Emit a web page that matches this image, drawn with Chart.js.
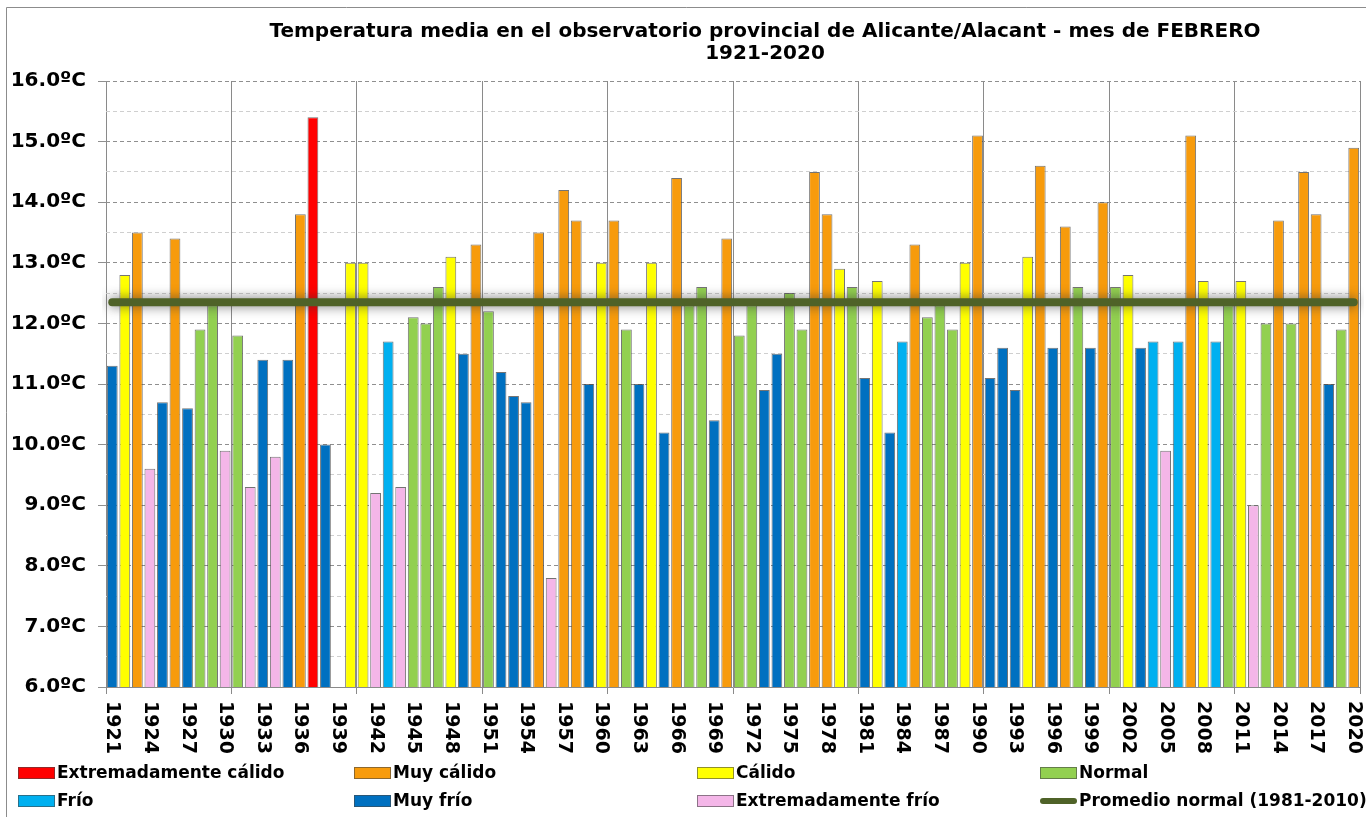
<!DOCTYPE html>
<html>
<head>
<meta charset="utf-8">
<script src="https://cdn.jsdelivr.net/npm/chart.js@4.4.1/dist/chart.umd.min.js"></script>
<style>
  html, body { margin: 0; padding: 0; background: #ffffff; }
  #wrap { position: relative; width: 1366px; height: 817px; overflow: hidden; }
  canvas { display: block; }
</style>
</head>
<body>
<div id="wrap"><canvas id="c" width="1366" height="817"></canvas></div>
<script>
// ---------- DATA ----------
const years = ['1921','1922','1923','1924','1925','1926','1927','1928','1929','1930',
  '1931','1932','1933','1934','1935','1936','1937','1938','1939','1940',
  '1941','1942','1943','1944','1945','1946','1947','1948','1949','1950',
  '1951','1952','1953','1954','1955','1956','1957','1958','1959','1960',
  '1961','1962','1963','1964','1965','1966','1967','1968','1969','1970',
  '1971','1972','1973','1974','1975','1976','1977','1978','1979','1980',
  '1981','1982','1983','1984','1985','1986','1987','1988','1989','1990',
  '1991','1992','1993','1994','1995','1996','1997','1998','1999','2000',
  '2001','2002','2003','2004','2005','2006','2007','2008','2009','2010',
  '2011','2012','2013','2014','2015','2016','2017','2018','2019','2020'];

const temps = [11.3,12.8,13.5,9.6,10.7,13.4,10.6,11.9,12.3,9.9,
  11.8,9.3,11.4,9.8,11.4,13.8,15.4,10.0,null,13.0,
  13.0,9.2,11.7,9.3,12.1,12.0,12.6,13.1,11.5,13.3,
  12.2,11.2,10.8,10.7,13.5,7.8,14.2,13.7,11.0,13.0,
  13.7,11.9,11.0,13.0,10.2,14.4,12.3,12.6,10.4,13.4,
  11.8,12.3,10.9,11.5,12.5,11.9,14.5,13.8,12.9,12.6,
  11.1,12.7,10.2,11.7,13.3,12.1,12.3,11.9,13.0,15.1,
  11.1,11.6,10.9,13.1,14.6,11.6,13.6,12.6,11.6,14.0,
  12.6,12.8,11.6,11.7,9.9,11.7,15.1,12.7,11.7,12.3,
  12.7,9.0,12.0,13.7,12.0,14.5,13.8,11.0,11.9,14.9];

// EC = Extremadamente cálido, MC = Muy cálido, C = Cálido, N = Normal,
// F = Frío, MF = Muy frío, EF = Extremadamente frío
const classes = ['MF','C','MC','EF','MF','MC','MF','N','N','EF',
  'N','EF','MF','EF','MF','MC','EC','MF',null,'C',
  'C','EF','F','EF','N','N','N','C','MF','MC',
  'N','MF','MF','MF','MC','EF','MC','MC','MF','C',
  'MC','N','MF','C','MF','MC','N','N','MF','MC',
  'N','N','MF','MF','N','N','MC','MC','C','N',
  'MF','C','MF','F','MC','N','N','N','C','MC',
  'MF','MF','MF','C','MC','MF','MC','N','MF','MC',
  'N','C','MF','F','EF','F','MC','C','F','N',
  'C','EF','N','MC','N','MC','MC','MF','N','MC'];

const classCodes  = ['EC','MC','C','N','F','MF','EF'];
const classNames  = ['Extremadamente cálido','Muy cálido','Cálido','Normal','Frío','Muy frío','Extremadamente frío'];
const classColors = ['#FF0000','#F79B0C','#FFFF00','#92D050','#00B0F0','#0070C0','#F4B6E8'];

const promedioLabel = 'Promedio normal (1981-2010)';
const promedioValue = 12.35;

const titleLines = ['Temperatura media en el observatorio provincial de Alicante/Alacant - mes de FEBRERO', '1921-2020'];

// ---------- CHART ----------
const FONT = '"DejaVu Sans", Verdana, sans-serif';

const barDatasets = classCodes.map((code, k) => ({
  type: 'bar',
  label: classNames[k],
  data: temps.map((t, i) => classes[i] === code ? t : null),
  backgroundColor: classColors[k],
  borderColor: 'rgba(70,70,70,0.75)',
  borderWidth: 1,
  grouped: false,
  categoryPercentage: 1.0,
  barPercentage: 0.86,
  order: 2
}));

const lineDataset = {
  type: 'line',
  label: promedioLabel,
  data: years.map(() => promedioValue),
  borderColor: '#4F6228',
  backgroundColor: '#4F6228',
  borderWidth: 8,
  borderCapStyle: 'round',
  pointRadius: 0,
  fill: false,
  order: 0
};

const decorPlugin = {
  id: 'decor',
  beforeDraw(chart) {
    const ctx = chart.ctx;
    ctx.save();
    ctx.fillStyle = '#ffffff';
    ctx.fillRect(0, 0, chart.width, chart.height);
    ctx.strokeStyle = '#8c8c8c';
    ctx.lineWidth = 1;
    ctx.beginPath();
    ctx.moveTo(6.5, 817); ctx.lineTo(6.5, 7.5); ctx.lineTo(1366, 7.5);
    ctx.stroke();
    ctx.restore();
  },
  beforeDatasetDraw(chart, args) {
    if (chart.data.datasets[args.index].type === 'line') {
      const ctx = chart.ctx;
      ctx.save();
      ctx.shadowColor = 'rgba(50,50,50,0.7)';
      ctx.shadowBlur = 12;
      ctx.shadowOffsetX = 0;
      ctx.shadowOffsetY = 0;
    }
  },
  afterDatasetDraw(chart, args) {
    if (chart.data.datasets[args.index].type === 'line') {
      chart.ctx.restore();
    }
  },
  afterDraw(chart) {
    const ctx = chart.ctx;
    const xs = chart.scales.x;
    ctx.save();
    // Title
    ctx.fillStyle = '#000';
    ctx.font = 'bold 20px ' + FONT;
    ctx.textAlign = 'center';
    ctx.textBaseline = 'middle';
    ctx.fillText(titleLines[0], 765, 32);
    ctx.fillText(titleLines[1], 765, 54);

    // X labels (every 3 years), rotated clockwise
    ctx.font = 'bold 19px ' + FONT;
    ctx.textAlign = 'left';
    ctx.textBaseline = 'middle';
    years.forEach((y, i) => {
      if (i % 3 !== 0 && i !== years.length - 1) return;
      const x = xs.getPixelForValue(i);
      ctx.save();
      ctx.translate(x, 701);
      ctx.rotate(Math.PI / 2);
      ctx.fillText(y, 0, 0);
      ctx.restore();
    });

    // Legend
    const colX = [18, 354, 697, 1040];
    const rowY = [773, 801];
    const items = classNames.map((n, k) => ({name: n, color: classColors[k], kind: 'box'}));
    items.push({name: promedioLabel, color: '#4F6228', kind: 'line'});
    ctx.font = 'bold 17px ' + FONT;
    ctx.textBaseline = 'middle';
    ctx.textAlign = 'left';
    items.forEach((it, k) => {
      const x = colX[k % 4], y = rowY[Math.floor(k / 4)];
      if (it.kind === 'box') {
        ctx.fillStyle = it.color;
        ctx.fillRect(x, y - 6, 37, 12);
        ctx.strokeStyle = 'rgba(70,70,70,0.6)';
        ctx.lineWidth = 1;
        ctx.strokeRect(x + 0.5, y - 5.5, 36, 11);
      } else {
        ctx.strokeStyle = it.color;
        ctx.lineWidth = 6;
        ctx.lineCap = 'round';
        ctx.beginPath();
        ctx.moveTo(x + 3, y); ctx.lineTo(x + 34, y);
        ctx.stroke();
      }
      ctx.fillStyle = '#000';
      ctx.fillText(it.name, x + 39, y + 1);
    });
    ctx.restore();
  }
};

new Chart(document.getElementById('c'), {
  data: { labels: years, datasets: [lineDataset, ...barDatasets] },
  options: {
    responsive: false,
    animation: false,
    layout: { padding: { left: 0, top: 81, right: 6, bottom: 0 } },
    plugins: { legend: { display: false }, tooltip: { enabled: false }, title: { display: false } },
    scales: {
      x: {
        type: 'category',
        offset: true,
        grid: {
          offset: true,
          drawOnChartArea: true,
          color: (c) => (c.index === undefined || c.index % 10 === 0) ? '#8a8a8a' : 'rgba(0,0,0,0)',
          tickColor: (c) => (c.index === undefined || c.index % 10 === 0) ? '#8a8a8a' : 'rgba(0,0,0,0)',
          tickLength: 7,
          lineWidth: 1
        },
        border: { display: true, color: '#8a8a8a', width: 1 },
        ticks: { display: false, autoSkip: false },
        afterFit(scale) { scale.height = 130; }
      },
      y: {
        min: 6, max: 16,
        grid: {
          color: (c) => (c.tick && Number.isInteger(c.tick.value)) ? '#8f8f8f' : '#cfcfcf',
          tickColor: (c) => (c.tick && Number.isInteger(c.tick.value)) ? '#8f8f8f' : 'rgba(0,0,0,0)',
          tickLength: 8,
          lineWidth: 1
        },
        border: { display: false, dash: [4, 3] },
        ticks: {
          stepSize: 0.5,
          autoSkip: false,
          padding: 12,
          color: '#000',
          font: { family: FONT, size: 20, weight: 'bold' },
          callback: (v) => Number.isInteger(v) ? v.toFixed(1) + 'ºC' : ''
        },
        afterFit(scale) { scale.width = 106; }
      }
    }
  },
  plugins: [decorPlugin]
});
</script>
</body>
</html>
